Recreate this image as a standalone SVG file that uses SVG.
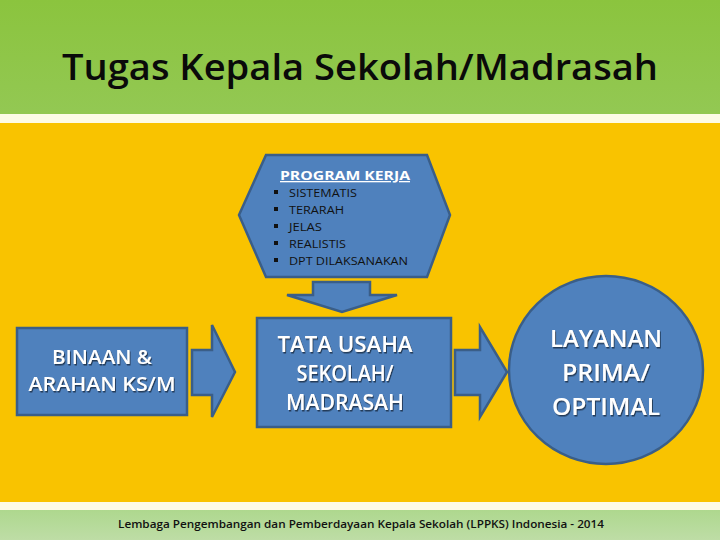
<svg xmlns="http://www.w3.org/2000/svg" width="720" height="540" viewBox="0 0 720 540">
<defs>
<linearGradient id="gTop" x1="0" y1="0" x2="0" y2="1">
<stop offset="0" stop-color="#8BC43E"/><stop offset="1" stop-color="#93C853"/>
</linearGradient>
<linearGradient id="gBot" x1="0" y1="0" x2="0" y2="1">
<stop offset="0" stop-color="#AED88E"/><stop offset="1" stop-color="#BEDDA6"/>
</linearGradient>
<filter id="sh" x="-10%" y="-10%" width="120%" height="130%">
<feDropShadow dx="1" dy="1.5" stdDeviation="0.6" flood-color="#1f3550" flood-opacity="0.9"/>
</filter>
</defs>
<style>
.shape{fill:#4F81BD;stroke:#3A5E88;stroke-width:2.5}
.wt{font-family:"Open Sans","Noto Sans",sans-serif;font-weight:600;fill:#FFFFFF;text-anchor:middle;filter:url(#sh)}
.bl{font-family:"Open Sans","Noto Sans",sans-serif;font-size:11.5px;fill:#111111}
</style>
<rect x="0" y="0" width="720" height="114" fill="url(#gTop)"/>
<rect x="0" y="114" width="720" height="9" fill="#FDFBE6"/>
<rect x="0" y="123" width="720" height="379" fill="#F9C300"/>
<rect x="0" y="502" width="720" height="8" fill="#FDFBE6"/>
<rect x="0" y="510" width="720" height="30" fill="url(#gBot)"/>
<text x="360" y="80" font-family="'Open Sans','Noto Sans',sans-serif" font-size="36" font-weight="600" fill="#0A0A0A" text-anchor="middle" textLength="596" lengthAdjust="spacingAndGlyphs">Tugas Kepala Sekolah/Madrasah</text>
<g id="connectors">
<polygon class="shape" points="313,282 370,282 370,295 397,295 342,312 287,295 313,295"/>
<polygon class="shape" points="192,350 212,350 212,325 235,372 212,417 212,395 192,395"/>
<polygon class="shape" points="455,350 480,350 480,327 507,372 480,417 480,395 455,395"/>
</g>
<g id="program-kerja">
<polygon class="shape" points="266,155 427,155 450,215 427,277 266,277 239,215"/>
<text x="345" y="180" font-family="'Open Sans','Noto Sans',sans-serif" font-size="13" font-weight="bold" fill="#FFFFFF" text-anchor="middle" text-decoration="underline" textLength="130" lengthAdjust="spacingAndGlyphs">PROGRAM KERJA</text>
<g class="bl">
<rect x="274" y="190" width="4" height="4" fill="#111"/><text x="289" y="197" textLength="68" lengthAdjust="spacingAndGlyphs">SISTEMATIS</text>
<rect x="274" y="207" width="4" height="4" fill="#111"/><text x="289" y="214" textLength="55" lengthAdjust="spacingAndGlyphs">TERARAH</text>
<rect x="274" y="224" width="4" height="4" fill="#111"/><text x="289" y="231" textLength="33" lengthAdjust="spacingAndGlyphs">JELAS</text>
<rect x="274" y="241" width="4" height="4" fill="#111"/><text x="289" y="248" textLength="57" lengthAdjust="spacingAndGlyphs">REALISTIS</text>
<rect x="274" y="258" width="4" height="4" fill="#111"/><text x="289" y="265" textLength="119" lengthAdjust="spacingAndGlyphs">DPT DILAKSANAKAN</text>
</g>
</g>
<g id="binaan">
<rect class="shape" x="17" y="328" width="170" height="87"/>
<text class="wt" font-size="20"><tspan x="102" y="364" textLength="100" lengthAdjust="spacingAndGlyphs">BINAAN &amp;</tspan></text>
<text class="wt" font-size="20"><tspan x="102" y="391" textLength="147" lengthAdjust="spacingAndGlyphs">ARAHAN KS/M</tspan></text>
</g>
<g id="tata-usaha">
<rect class="shape" x="257" y="318" width="194" height="109"/>
<text class="wt" font-size="21" x="345" y="352" textLength="135" lengthAdjust="spacingAndGlyphs">TATA  USAHA</text>
<text class="wt" font-size="21" x="345" y="381" textLength="97" lengthAdjust="spacingAndGlyphs">SEKOLAH/</text>
<text class="wt" font-size="21" x="345" y="410" textLength="118" lengthAdjust="spacingAndGlyphs">MADRASAH</text>
</g>
<g id="layanan">
<ellipse class="shape" cx="606" cy="370" rx="97" ry="94"/>
<text class="wt" font-size="23" x="606" y="347" textLength="112" lengthAdjust="spacingAndGlyphs">LAYANAN</text>
<text class="wt" font-size="23" x="606" y="381" textLength="88" lengthAdjust="spacingAndGlyphs">PRIMA/</text>
<text class="wt" font-size="23" x="606" y="415" textLength="108" lengthAdjust="spacingAndGlyphs">OPTIMAL</text>
</g>
<text x="361" y="528" font-family="'Open Sans','Noto Sans',sans-serif" font-size="11.5" font-weight="600" fill="#111111" text-anchor="middle" textLength="486" lengthAdjust="spacingAndGlyphs">Lembaga Pengembangan dan Pemberdayaan Kepala Sekolah (LPPKS) Indonesia -  2014</text>
</svg>
